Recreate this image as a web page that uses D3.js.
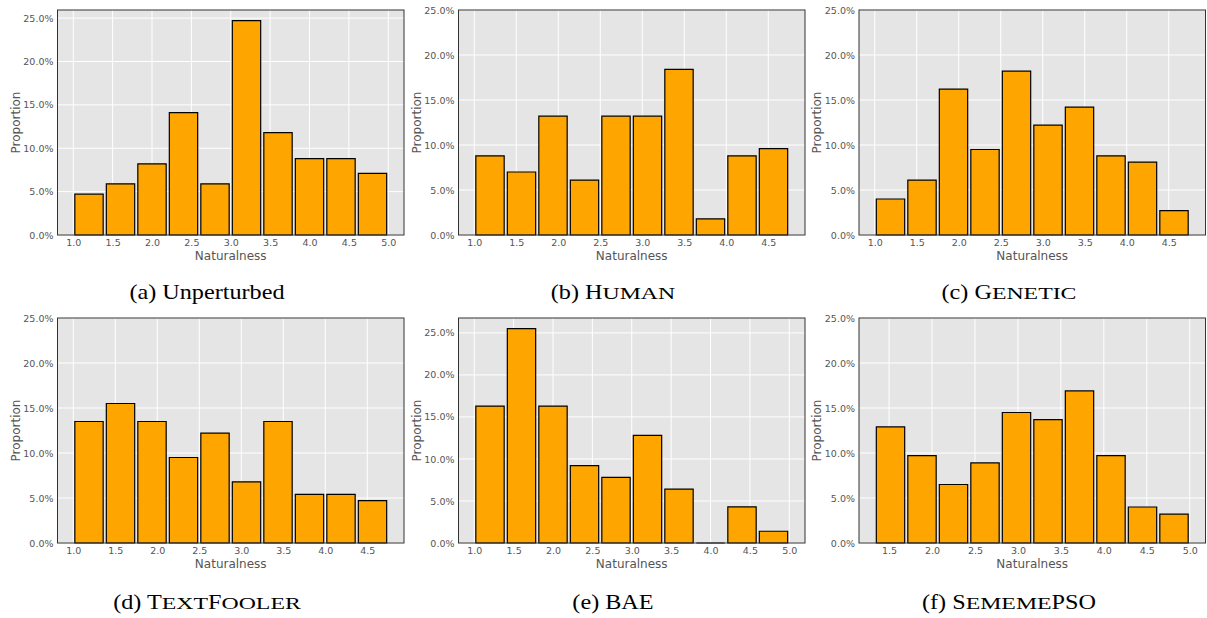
<!DOCTYPE html>
<html>
<head>
<meta charset="utf-8">
<script src="https://cdn.jsdelivr.net/npm/d3@7"></script>
<style>
  body { margin: 0; background: #fff; }
  svg { display: block; }
</style>
</head>
<body>
<svg id="chart" width="1207" height="618"></svg>
<script>
// proportions (%) per naturalness bin
var unperturbed = [4.7, 5.9, 8.2, 14.1, 5.9, 24.7, 11.8, 8.8, 8.8, 7.1];
var human       = [8.8, 7.0, 13.2, 6.1, 13.2, 13.2, 18.4, 1.8, 8.8, 9.6];
var genetic     = [4.0, 6.1, 16.2, 9.5, 18.2, 12.2, 14.2, 8.8, 8.1, 2.7];
var textfooler  = [13.5, 15.5, 13.5, 9.5, 12.2, 6.8, 13.5, 5.4, 5.4, 4.7];
var bae         = [16.3, 25.5, 16.3, 9.2, 7.8, 12.8, 6.4, 0.0, 4.3, 1.4];
var sememepso   = [12.9, 9.7, 6.5, 8.9, 14.5, 13.7, 16.9, 9.7, 4.0, 3.2];

// histogram range (min, max naturalness) of each panel
var binRanges = [[1.0, 5.0], [1.0, 4.75], [1.0, 4.75], [1.0, 4.75], [1.0, 5.0], [4 / 3, 5.0]];

// captions: [text, smallcaps?] pieces
var captions = [
    [["(a) Unperturbed", false]],
    [["(b) H", false], ["UMAN", true]],
    [["(c) G", false], ["ENETIC", true]],
    [["(d) T", false], ["EXT", true], ["F", false], ["OOLER", true]],
    [["(e) BAE", false]],
    [["(f) S", false], ["EMEME", true], ["PSO", false]]
];

var yTicks = [0, 5, 10, 15, 20, 25];

var series = [unperturbed, human, genetic, textfooler, bae, sememepso];

var svg = d3.select("#chart");

var colLeft = [57.5, 458.5, 859];
var rowTop = [10, 318];
var plotW = 346.5, plotH = 225;
var captionX = [207, 613, 1009];
var captionY = [299, 609];

series.forEach(function(values, i) {
    var col = i % 3, row = Math.floor(i / 3);
    var g = svg.append("g")
        .attr("transform", "translate(" + colLeft[col] + "," + rowTop[row] + ")");
    drawPanel(g, values, binRanges[i]);
    drawCaption(captions[i], captionX[col], captionY[row]);
});

// caption pieces laid out one after another; small caps are drawn
// smaller and stretched a bit, like the typeset originals
function drawCaption(pieces, cx, cy) {
    var cap = svg.append("g");
    var cursor = 0;
    pieces.forEach(function(piece) {
        var sx = piece[1] ? 1.4 : 1.1;
        var pg = cap.append("g");
        var t = pg.append("text")
            .attr("font-family", "Liberation Serif, Times New Roman, serif")
            .attr("font-size", piece[1] ? 17 : 22)
            .attr("fill", "#000")
            .text(piece[0]);
        var w = t.node().getComputedTextLength() * sx;
        pg.attr("transform", "translate(" + cursor + ",0) scale(" + sx + ",1)");
        cursor += w;
    });
    cap.attr("transform", "translate(" + (cx - cursor / 2) + "," + cy + ")");
}

function drawPanel(g, values, range) {
    var lo = range[0], hi = range[1];
    var pad = (hi - lo) * 0.05;
    var binW = (hi - lo) / values.length;

    var x = d3.scaleLinear().domain([lo - pad, hi + pad]).range([0, plotW]);
    var yMax = Math.max(25, d3.max(values) * 1.05);
    var y = d3.scaleLinear().domain([0, yMax]).range([plotH, 0]);

    var xTicks = d3.range(Math.ceil((lo - pad) * 2) / 2, hi + pad + 1e-9, 0.5);

    // background
    g.append("rect")
        .attr("width", plotW)
        .attr("height", plotH)
        .attr("fill", "#e5e5e5");

    // grid
    g.selectAll(".gx").data(xTicks).enter().append("line")
        .attr("x1", function(d) { return x(d); })
        .attr("x2", function(d) { return x(d); })
        .attr("y1", 0).attr("y2", plotH)
        .attr("stroke", "#fff").attr("stroke-width", 1);
    g.selectAll(".gy").data(yTicks).enter().append("line")
        .attr("y1", function(d) { return y(d); })
        .attr("y2", function(d) { return y(d); })
        .attr("x1", 0).attr("x2", plotW)
        .attr("stroke", "#fff").attr("stroke-width", 1);

    // bars (paths so that an empty bin still shows its outline)
    g.selectAll(".bar").data(values).enter().append("path")
        .attr("d", function(d, j) {
            var x0 = x(lo + j * binW + binW * 0.05);
            var x1 = x(lo + (j + 1) * binW - binW * 0.05);
            return "M" + x0 + "," + y(0) + "V" + y(d) + "H" + x1 + "V" + y(0) + "Z";
        })
        .attr("fill", "#ffa500")
        .attr("stroke", "#000")
        .attr("stroke-width", 1.2);

    // frame
    g.append("rect")
        .attr("width", plotW)
        .attr("height", plotH)
        .attr("fill", "none")
        .attr("stroke", "#333")
        .attr("stroke-width", 1);

    // tick labels
    var xAxis = d3.axisBottom(x).tickValues(xTicks)
        .tickFormat(d3.format(".1f")).tickSize(0).tickPadding(4);
    var ya = d3.axisLeft(y).tickValues(yTicks)
        .tickFormat(function(d) { return d.toFixed(1) + "%"; })
        .tickSize(0).tickPadding(4);

    var gx = g.append("g").attr("transform", "translate(0," + plotH + ")").call(xAxis);
    var gy = g.append("g").call(ya);
    [gx, gy].forEach(function(a) {
        a.select(".domain").remove();
        a.selectAll("text")
            .attr("font-family", "DejaVu Sans, sans-serif")
            .attr("font-size", 9.5)
            .attr("fill", "#555");
    });

    g.append("text")
        .attr("x", plotW / 2)
        .attr("y", plotH + 25)
        .attr("text-anchor", "middle")
        .attr("font-family", "DejaVu Sans, sans-serif")
        .attr("font-size", 12)
        .attr("fill", "#555")
        .text("Naturalness");

    g.append("text")
        .attr("transform", "translate(-38," + plotH / 2 + ") rotate(-90)")
        .attr("text-anchor", "middle")
        .attr("font-family", "DejaVu Sans, sans-serif")
        .attr("font-size", 12)
        .attr("fill", "#555")
        .text("Proportion");
}
</script>
</body>
</html>
